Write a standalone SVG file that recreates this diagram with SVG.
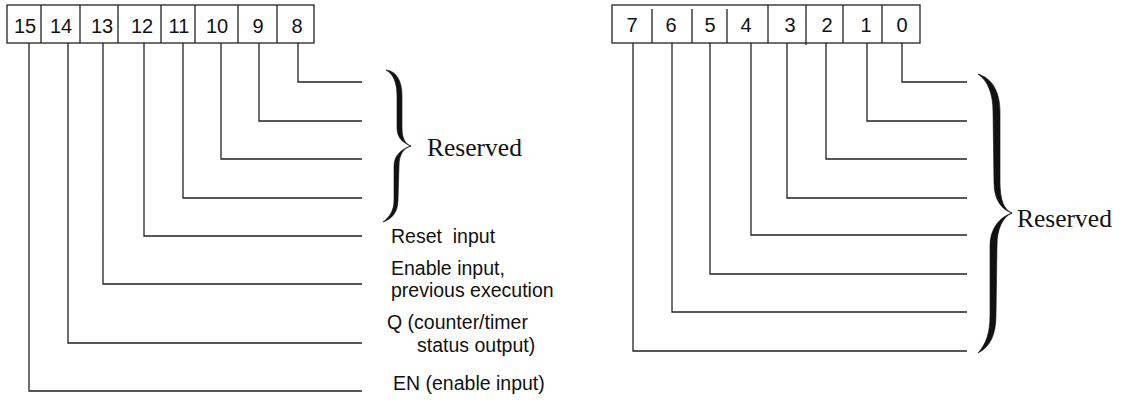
<svg xmlns="http://www.w3.org/2000/svg" width="1122" height="410" viewBox="0 0 1122 410">
<style>
.box{fill:#fff;stroke:#222;stroke-width:1.3}
.ln{fill:none;stroke:#222;stroke-width:1.3}
.num{font-family:"Liberation Sans",Arial,sans-serif;font-size:20px;fill:#111;text-anchor:middle}
.lbl{font-family:"Liberation Sans",Arial,sans-serif;font-size:19.5px;fill:#111}
.res{font-family:"Liberation Serif","Times New Roman",serif;font-size:25.5px;fill:#111}
.brace{fill:#111;stroke:#111;stroke-width:0.6}
</style>
<rect width="1122" height="410" fill="#fff"/>
<g id="register-high">
<rect class="box" x="7" y="5" width="307" height="38"/>
<path class="ln" d="M41,5V43M80,5V43M118,5V43M161,5V43M195,5V43M238,5V43M277,5V43"/>
<text class="num" x="25" y="33">15</text>
<text class="num" x="61" y="33">14</text>
<text class="num" x="102" y="33">13</text>
<text class="num" x="142" y="33">12</text>
<text class="num" x="179" y="33">11</text>
<text class="num" x="217" y="33">10</text>
<text class="num" x="258" y="33">9</text>
<text class="num" x="297" y="33">8</text>
</g>
<g id="register-low">
<rect class="box" x="612" y="5" width="308" height="38"/>
<path class="ln" d="M652,9V43M692,9V43M727,9V43M768,5V43M806,5V45M843,5V43M882,5V43"/>
<text class="num" x="632" y="32">7</text>
<text class="num" x="671" y="32">6</text>
<text class="num" x="710" y="32">5</text>
<text class="num" x="746" y="32">4</text>
<text class="num" x="790" y="32">3</text>
<text class="num" x="827" y="32">2</text>
<text class="num" x="866" y="32">1</text>
<text class="num" x="902" y="32">0</text>
</g>
<g id="connectors">
<path class="ln" d="M298,43V82H362M259,43V121H362M221,43V159H362M183,43V198H362M144,43V236H362M103,43V284H362M68,43V343H362M29,43V391H362"/>
<path class="ln" d="M902,43V82H967M867,43V121H967M826,43V159H967M787,43V198H967M751,43V235H967M710,43V274H967M672,43V312H967M633,43V351H967"/>
</g>
<g id="brace-left">
<path class="brace" d="M386,70C396,71 402,80 402,96L402,128C402,138 405,144 411,146C403,143 397,138 397,128L397,96C397,82 393,74 386,70Z"/>
<path class="brace" d="M411,146C404,148 399,154 399,166L398,200C398,212 392,219 383,222C390,217 394,210 394,200L394,166C394,156 401,149 411,146Z"/>
<text class="res" x="427" y="156">Reserved</text>
</g>
<g id="brace-right">
<path class="brace" d="M978,74C991,78 1000,90 1000,112L1000,182C1000,200 1004,210 1012,213C1002,210 994,200 994,183L993,112C993,94 988,81 978,74Z"/>
<path class="brace" d="M1012,213C1003,217 997,228 997,246L996,315C996,335 990,347 978,353C986,344 990,333 990,315L990,246C990,228 1000,217 1012,213Z"/>
<text class="res" x="1017" y="227">Reserved</text>
</g>
<g id="labels">
<text class="lbl" x="391" y="243" xml:space="preserve">Reset  input</text>
<text class="lbl" x="391" y="275">Enable input,</text>
<text class="lbl" x="391" y="297">previous execution</text>
<text class="lbl" x="387" y="329">Q (counter/timer</text>
<text class="lbl" x="417" y="352">status output)</text>
<text class="lbl" x="393" y="390">EN (enable input)</text>
</g>
</svg>
